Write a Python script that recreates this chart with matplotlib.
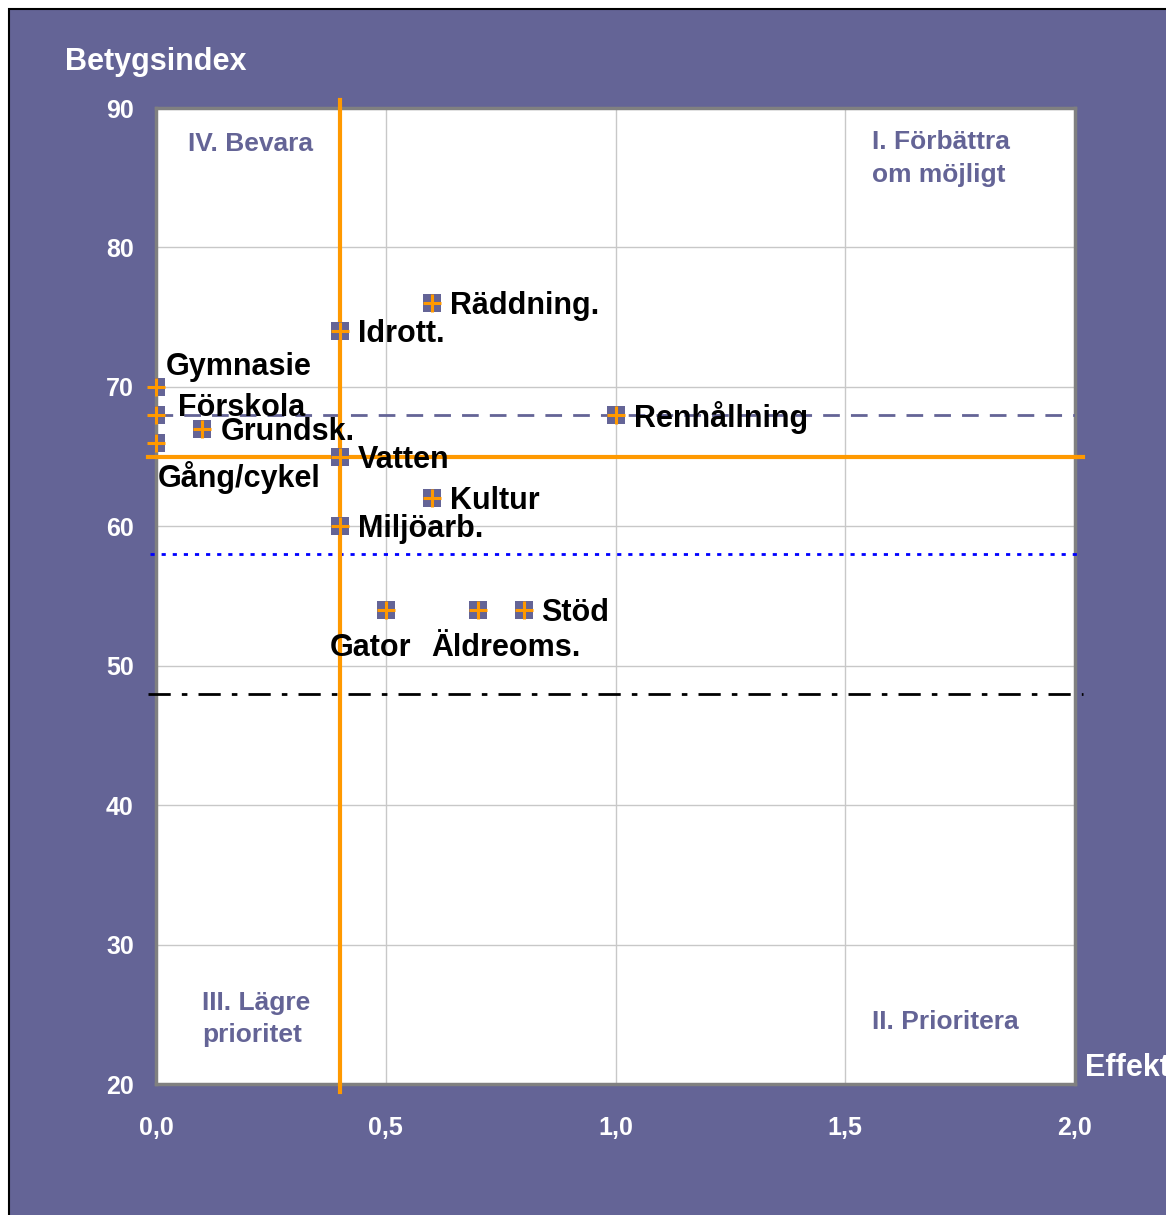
import matplotlib
matplotlib.use("Agg")
import matplotlib.pyplot as plt
from matplotlib.patches import Rectangle

plt.rcParams['font.family'] = ['Liberation Sans', 'DejaVu Sans']
plt.rcParams['font.weight'] = 'bold'

# Data
names = ["Räddning.", "Idrott.", "Gymnasie", "Förskola", "Grundsk.", "Gång/cykel",
         "Vatten", "Renhållning", "Kultur", "Miljöarb.", "Gator", "Äldreoms.", "Stöd"]
effekt = [0.6, 0.4, 0.0, 0.0, 0.1, 0.0, 0.4, 1.0, 0.6, 0.4, 0.5, 0.7, 0.8]
betyg = [76, 74, 70, 68, 67, 66, 65, 68, 62, 60, 54, 54, 54]
xticks = [0.0, 0.5, 1.0, 1.5, 2.0]
xticklabels = ["0,0", "0,5", "1,0", "1,5", "2,0"]
yticks = [20, 30, 40, 50, 60, 70, 80, 90]
vline_x = 0.4
hline_orange = 65
hline_dashed = 68
hline_dotted = 58
hline_dashdot = 48
quadrants = ["IV. Bevara", "I. Förbättra\nom möjligt", "III. Lägre\nprioritet", "II. Prioritera"]

# label offsets in pixels (dx, dy) relative to marker
offsets = {
    "Räddning.": (18, -3), "Idrott.": (18, -3),
    "Gymnasie": (10, 20), "Förskola": (22, 7),
    "Grundsk.": (19, -3), "Gång/cykel": (2, -35),
    "Vatten": (18, -3), "Renhållning": (19, -3),
    "Kultur": (18, -3), "Miljöarb.": (18, -3),
    "Gator": (-56, -38), "Äldreoms.": (-46, -38),
    "Stöd": (18, -3),
}

PURPLE = "#646496"
ORANGE = "#FF9900"

fig = plt.figure(figsize=(11.66, 12.15), dpi=100, facecolor='white')
fig.patches.append(Rectangle((9/1166, -0.01), 1.02, 1 - 9/1215 + 0.01, transform=fig.transFigure,
                             facecolor=PURPLE, edgecolor='black', linewidth=1.5, zorder=-10))

ax = fig.add_axes([156/1166, 1 - 1084/1215, (1075 - 156)/1166, (1084 - 108)/1215])
ax.set_facecolor('white')
ax.set_xlim(0, 2)
ax.set_ylim(20, 90)
ax.set_xticks(xticks)
ax.set_xticklabels(xticklabels)
ax.set_yticks(yticks)
ax.tick_params(length=0, colors='white', labelsize=18)
ax.tick_params(axis='x', pad=23)
ax.tick_params(axis='y', pad=16)
for lab in ax.get_xticklabels() + ax.get_yticklabels():
    lab.set_fontweight('bold')
ax.grid(True, color='#c8c8c8', linewidth=1)
ax.set_axisbelow(True)
for sp in ax.spines.values():
    sp.set_color('#808080')
    sp.set_linewidth(2.5)

# reference lines
ax.plot([0, 2], [hline_dashed, hline_dashed], color=PURPLE, linestyle=(0, (6, 4)), linewidth=2, zorder=3)
ax.plot([-0.013, 2.011], [hline_dotted, hline_dotted], color='#0000ff', linestyle=(0, (1.5, 2.5)),
        linewidth=2, clip_on=False, zorder=3)
ax.plot([-0.0174, 2.017], [hline_dashdot, hline_dashdot], color='black',
        linestyle=(0, (8, 4, 2, 4)), linewidth=2, clip_on=False, zorder=3)
ax.plot([-0.0174, 2.017], [hline_orange, hline_orange], color=ORANGE, linewidth=3, clip_on=False, zorder=4)
ax.plot([vline_x, vline_x], [19.43, 90.57], color=ORANGE, linewidth=3, clip_on=False, zorder=4)

# markers
ax.scatter(effekt, betyg, marker='s', s=150, color=PURPLE, zorder=5, clip_on=False, linewidths=0)
ax.scatter(effekt, betyg, marker='+', s=150, color=ORANGE, zorder=6, clip_on=False, linewidths=2.2)

for n, x, y in zip(names, effekt, betyg):
    dx, dy = offsets[n]
    ax.annotate(n, (x, y), xytext=(dx, dy), textcoords='offset pixels', ha='left', va='center',
                fontsize=22, fontweight='bold', color='black', zorder=7, annotation_clip=False)

# quadrant labels
qc = PURPLE
ax.text(0.07, 88.3, quadrants[0], color=qc, fontsize=19, fontweight='bold', va='top', ha='left')
ax.text(1.558, 88.4, quadrants[1], color=qc, fontsize=19, fontweight='bold', va='top', ha='left', linespacing=1.45)
ax.text(0.10, 26.7, quadrants[2], color=qc, fontsize=19, fontweight='bold', va='top', ha='left', linespacing=1.45)
ax.text(1.558, 25.3, quadrants[3], color=qc, fontsize=19, fontweight='bold', va='top', ha='left')

fig.text(65/1166, 1 - 62/1215, "Betygsindex", color='white', fontsize=22, fontweight='bold', va='center', ha='left')
fig.text(1085/1166, 1 - 1068/1215, "Effekt", color='white', fontsize=22, fontweight='bold', va='center', ha='left')

fig.savefig("out.png", dpi=100, facecolor='white')
